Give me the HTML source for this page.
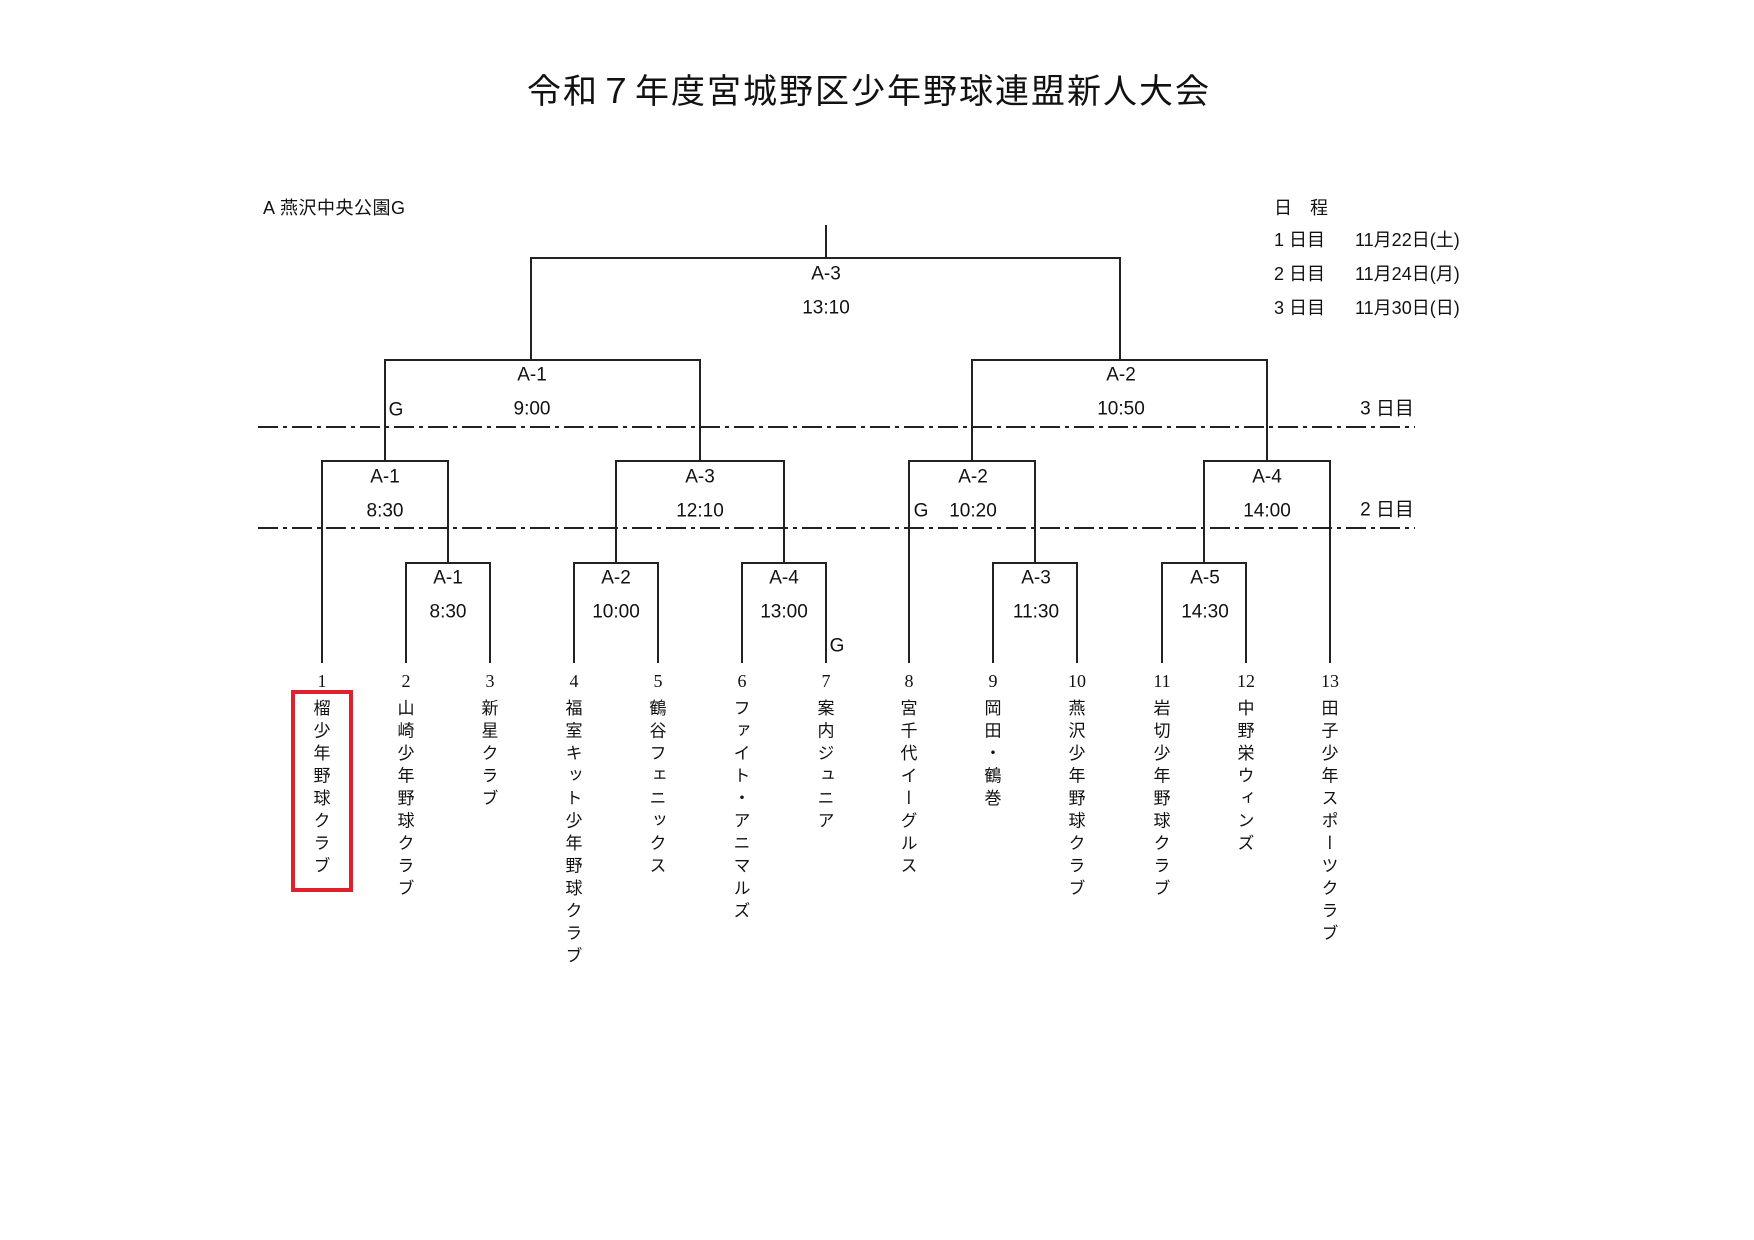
<!DOCTYPE html>
<html><head><meta charset="utf-8">
<style>
body{margin:0;background:#fff;}
#p{position:relative;width:1754px;height:1240px;overflow:hidden;background:#fff;font-family:"Liberation Sans","Noto Sans CJK JP",sans-serif;color:#111;}
.t{position:absolute;white-space:nowrap;line-height:1;}
.c{transform:translate(-50%,-50%);}
.l{transform:translateY(-50%);}
.lab{font-size:19px;}
.num{font-family:"Liberation Serif","Noto Serif CJK SC",serif;font-size:18px;transform:translate(-50%,-50%);}
.nm{position:absolute;writing-mode:vertical-rl;font-size:17px;letter-spacing:5.5px;line-height:1;transform:translateX(-50%);font-family:"Noto Sans CJK JP",sans-serif;}
</style></head><body><div id="p">
<svg width="1754" height="1240" style="position:absolute;left:0;top:0">
<g stroke="#222" stroke-width="2" fill="none">
<path d="M826 225V258 M531 360V258H1120V360"/>
<path d="M385 461V360H700V461 M972 461V360H1267V461"/>
<path d="M322 663V461H448V563 M616 563V461H784V563 M909 663V461H1035V563 M1204 563V461H1330V663"/>
<path d="M406 663V563H490V663 M574 663V563H658V663 M742 663V563H826V663 M993 663V563H1077V663 M1162 663V563H1246V663"/>
</g>
<g stroke="#222" stroke-width="2" stroke-dasharray="20 5 4 5">
<line x1="258" y1="427" x2="1415" y2="427"/>
<line x1="258" y1="528" x2="1415" y2="528"/>
</g>
<rect x="293" y="692" width="58" height="198" fill="none" stroke="#e0202a" stroke-width="4"/>
</svg>
<div class="t c" style="left:869px;top:92px;font-size:34px;letter-spacing:2px">令和７年度宮城野区少年野球連盟新人大会</div>
<div class="t l" style="left:263px;top:208px;font-size:18px;letter-spacing:0.5px">A 燕沢中央公園G</div>
<div class="t l" style="left:1274px;top:208px;font-size:18px">日　程</div>
<div class="t l" style="left:1274px;top:240px;font-size:18px">1 日目</div>
<div class="t l" style="left:1355px;top:240px;font-size:18px">11月22日(土)</div>
<div class="t l" style="left:1274px;top:274px;font-size:18px">2 日目</div>
<div class="t l" style="left:1355px;top:274px;font-size:18px">11月24日(月)</div>
<div class="t l" style="left:1274px;top:308px;font-size:18px">3 日目</div>
<div class="t l" style="left:1355px;top:308px;font-size:18px">11月30日(日)</div>
<div class="t c lab" style="left:826px;top:274px">A-3</div><div class="t c lab" style="left:826px;top:308px">13:10</div>
<div class="t c lab" style="left:532px;top:375px">A-1</div><div class="t c lab" style="left:532px;top:409px">9:00</div>
<div class="t c lab" style="left:1121px;top:375px">A-2</div><div class="t c lab" style="left:1121px;top:409px">10:50</div>
<div class="t c lab" style="left:396px;top:410px">G</div>
<div class="t c lab" style="left:1387px;top:409px">3 日目</div>
<div class="t c lab" style="left:1387px;top:510px">2 日目</div>
<div class="t c lab" style="left:385px;top:477px">A-1</div><div class="t c lab" style="left:385px;top:511px">8:30</div>
<div class="t c lab" style="left:700px;top:477px">A-3</div><div class="t c lab" style="left:700px;top:511px">12:10</div>
<div class="t c lab" style="left:973px;top:477px">A-2</div><div class="t c lab" style="left:973px;top:511px">10:20</div>
<div class="t c lab" style="left:921px;top:511px">G</div>
<div class="t c lab" style="left:1267px;top:477px">A-4</div><div class="t c lab" style="left:1267px;top:511px">14:00</div>
<div class="t c lab" style="left:448px;top:578px">A-1</div><div class="t c lab" style="left:448px;top:612px">8:30</div>
<div class="t c lab" style="left:616px;top:578px">A-2</div><div class="t c lab" style="left:616px;top:612px">10:00</div>
<div class="t c lab" style="left:784px;top:578px">A-4</div><div class="t c lab" style="left:784px;top:612px">13:00</div>
<div class="t c lab" style="left:1036px;top:578px">A-3</div><div class="t c lab" style="left:1036px;top:612px">11:30</div>
<div class="t c lab" style="left:1205px;top:578px">A-5</div><div class="t c lab" style="left:1205px;top:612px">14:30</div>
<div class="t c lab" style="left:837px;top:646px">G</div>
<div class="t num" style="left:322px;top:681px">1</div>
<div class="t num" style="left:406px;top:681px">2</div>
<div class="t num" style="left:490px;top:681px">3</div>
<div class="t num" style="left:574px;top:681px">4</div>
<div class="t num" style="left:658px;top:681px">5</div>
<div class="t num" style="left:742px;top:681px">6</div>
<div class="t num" style="left:826px;top:681px">7</div>
<div class="t num" style="left:909px;top:681px">8</div>
<div class="t num" style="left:993px;top:681px">9</div>
<div class="t num" style="left:1077px;top:681px">10</div>
<div class="t num" style="left:1162px;top:681px">11</div>
<div class="t num" style="left:1246px;top:681px">12</div>
<div class="t num" style="left:1330px;top:681px">13</div>
<div class="nm" style="left:322px;top:699px">榴少年野球クラブ</div>
<div class="nm" style="left:406px;top:699px">山崎少年野球クラブ</div>
<div class="nm" style="left:490px;top:699px">新星クラブ</div>
<div class="nm" style="left:574px;top:699px">福室キット少年野球クラブ</div>
<div class="nm" style="left:658px;top:699px">鶴谷フェニックス</div>
<div class="nm" style="left:742px;top:699px">ファイト・アニマルズ</div>
<div class="nm" style="left:826px;top:699px">案内ジュニア</div>
<div class="nm" style="left:909px;top:699px">宮千代イーグルス</div>
<div class="nm" style="left:993px;top:699px">岡田・鶴巻</div>
<div class="nm" style="left:1077px;top:699px">燕沢少年野球クラブ</div>
<div class="nm" style="left:1162px;top:699px">岩切少年野球クラブ</div>
<div class="nm" style="left:1246px;top:699px">中野栄ウィンズ</div>
<div class="nm" style="left:1330px;top:699px">田子少年スポーツクラブ</div>
</div></body></html>
